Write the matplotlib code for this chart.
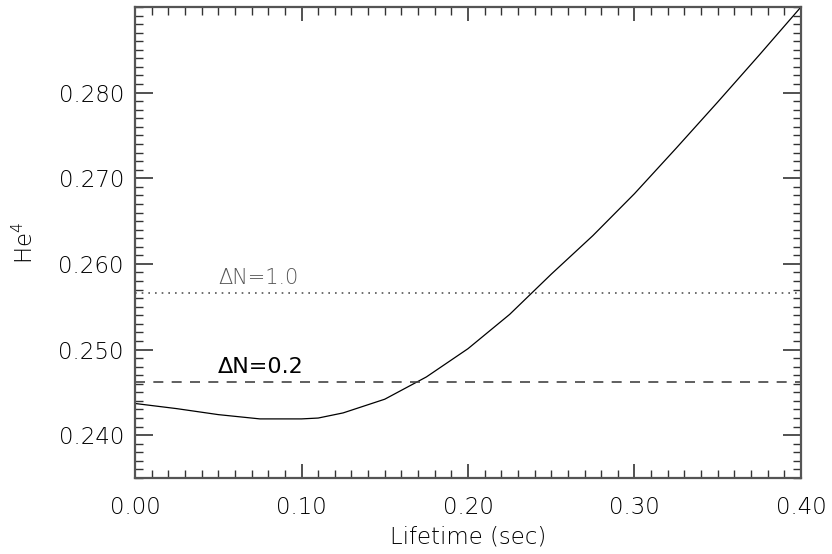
import matplotlib
matplotlib.use("Agg")
import matplotlib.pyplot as plt
from matplotlib.ticker import MultipleLocator, FormatStrFormatter

# He4 abundance vs lifetime
lifetime = [0.0, 0.025, 0.05, 0.075, 0.10, 0.11, 0.125, 0.15, 0.175, 0.20,
            0.225, 0.25, 0.275, 0.30, 0.325, 0.35, 0.375, 0.40]
he4 = [0.2437, 0.2431, 0.2424, 0.2419, 0.2419, 0.2420, 0.2426, 0.2442, 0.2468, 0.2501,
       0.2541, 0.2588, 0.2633, 0.2682, 0.2735, 0.2789, 0.2844, 0.2900]

dn_levels = [0.2566, 0.2462]
dn_labels = ["\u0394N=1.0", "\u0394N=0.2"]

plt.rcParams["font.family"] = ["DejaVu Sans"]
plt.rcParams["font.weight"] = "light"
plt.rcParams["axes.labelweight"] = "light"
plt.rcParams["mathtext.fontset"] = "custom"
plt.rcParams["mathtext.rm"] = "DejaVu Sans:light"
plt.rcParams["mathtext.default"] = "rm"

fig = plt.figure(figsize=(8.32, 5.54), dpi=100)
ax = fig.add_axes([0.1623, 0.1372, 0.8004, 0.8502])

ax.plot(lifetime, he4, color="black", lw=0.9)
ax.axhline(dn_levels[0], color="#555555", lw=1.2, ls=(0, (1, 3)))
ax.axhline(dn_levels[1], color="#444444", lw=1.2, ls=(0, (6, 5)))

ax.text(0.05, dn_levels[0] + 0.0006, dn_labels[0], color="#555555", fontsize=15,
        ha="left", va="bottom")
ax.text(0.05, dn_levels[1] + 0.0006, dn_labels[1], color="black", fontsize=16,
        fontweight="normal", ha="left", va="bottom")

ax.set_xlim(0.0, 0.40)
ax.set_ylim(0.235, 0.290)
ax.xaxis.set_major_locator(MultipleLocator(0.1))
ax.xaxis.set_minor_locator(MultipleLocator(0.01))
ax.yaxis.set_major_locator(MultipleLocator(0.01))
ax.yaxis.set_minor_locator(MultipleLocator(0.001))
ax.xaxis.set_major_formatter(FormatStrFormatter("%.2f"))
ax.yaxis.set_major_formatter(FormatStrFormatter("%.3f"))
ax.set_yticks([0.24, 0.25, 0.26, 0.27, 0.28])

ax.tick_params(which="both", direction="in", top=True, right=True,
               color="#333333", labelcolor="black", labelsize=16.5)
ax.tick_params(axis="x", which="major", length=10, width=1.2, pad=13)
ax.tick_params(axis="y", which="major", length=13, width=1.2, pad=8)
ax.tick_params(which="minor", length=6, width=1.0)
for s in ax.spines.values():
    s.set_color("#555555")
    s.set_linewidth(1.6)

ax.set_xlabel("Lifetime (sec)", fontsize=16.5, color="black", labelpad=5)
ax.set_ylabel("He$^4$", fontsize=16.5, color="black", labelpad=15)

fig.savefig("out.png", dpi=100)
plt.close(fig)
